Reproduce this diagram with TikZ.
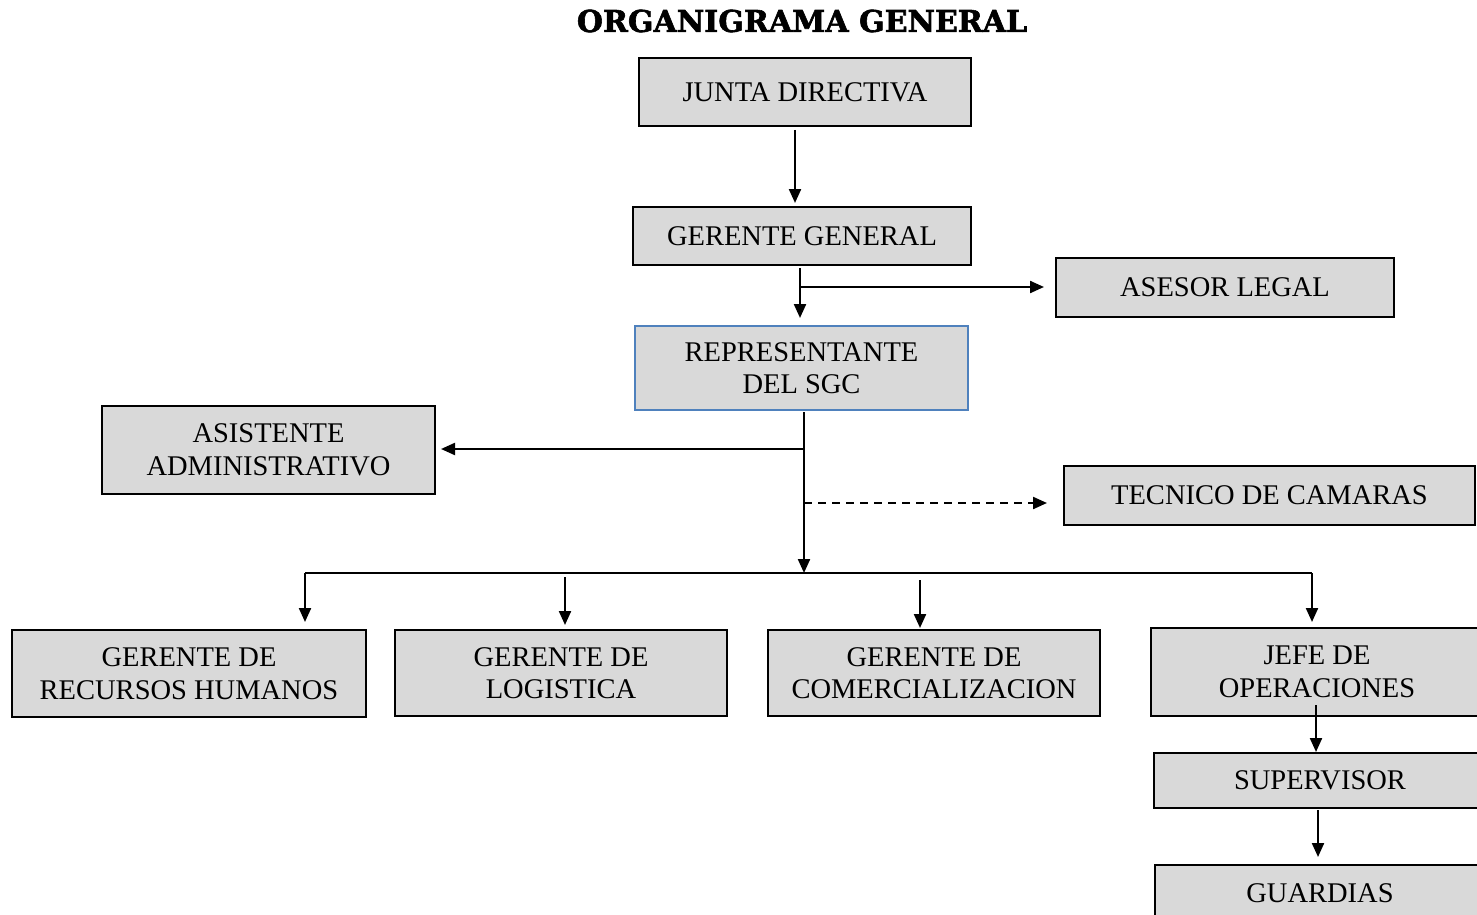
\documentclass[tikz,border=0pt]{standalone}
\usepackage{fontspec}
\setmainfont{Liberation Serif}
\newfontfamily\titlefont[BoldFeatures={FakeBold=2}]{DejaVu Serif}
\usetikzlibrary{arrows.meta,calc}
\definecolor{boxgray}{RGB}{217,217,217}
\definecolor{repblue}{RGB}{79,129,189}
\tikzset{
  box/.style={draw, line width=2.2pt, fill=boxgray, align=center, inner sep=0pt, outer sep=0pt,
    font=\fontsize{28.5}{32.5}\selectfont},
  arr/.style={line width=2.2pt, -{Triangle[length=14pt,width=12pt]}},
  busline/.style={line width=1.5pt}
}
\begin{document}
\begin{tikzpicture}[x=1pt,y=-1pt]
\useasboundingbox (0,0) rectangle (1477,915);
\node[font=\titlefont\bfseries\fontsize{30}{34}\selectfont] (title) at (802,21) {ORGANIGRAMA GENERAL};
\node[box, minimum width=332pt, minimum height=68pt] (junta) at (805,92) {JUNTA DIRECTIVA};
\node[box, minimum width=338pt, minimum height=58pt] (gg) at (802,236) {GERENTE GENERAL};
\node[box, minimum width=338pt, minimum height=59pt] (asesor) at (1225,287.5) {ASESOR LEGAL};
\node[box, draw=repblue, minimum width=333pt, minimum height=84pt] (rep) at (801.5,368) {REPRESENTANTE\\DEL SGC};
\node[box, minimum width=333pt, minimum height=88pt] (asis) at (268.5,450) {ASISTENTE\\ADMINISTRATIVO};
\node[box, minimum width=411pt, minimum height=59pt] (tec) at (1269.5,495.5) {TECNICO DE CAMARAS};
\node[box, minimum width=354pt, minimum height=87pt] (rrhh) at (189,673.5) {GERENTE DE\\RECURSOS HUMANOS};
\node[box, minimum width=332pt, minimum height=86pt] (log) at (561,673) {GERENTE DE\\LOGISTICA};
\node[box, minimum width=332pt, minimum height=86pt] (com) at (934,673) {GERENTE DE\\COMERCIALIZACION};
\node[box, minimum width=332pt, minimum height=88pt] (jefe) at (1317,672) {JEFE DE\\OPERACIONES};
\node[box, minimum width=332pt, minimum height=55pt] (sup) at (1320,780.5) {SUPERVISOR};
\node[box, minimum width=330pt, minimum height=56pt] (guard) at (1320,893) {GUARDIAS};

\coordinate (bus) at (804,573);
\coordinate (busL) at (305,573);
\coordinate (busR) at (1312,573);

\draw[arr] ([shift={(-10,4)}]junta.south) -- ([shift={(-7,-4)}]gg.north);
\draw[arr] ([shift={(-2,3)}]gg.south) -- ([shift={(-1.5,-8)}]rep.north);
\draw[arr] ([shift={(-2,22)}]gg.south) -- ([shift={(-12,-0.5)}]asesor.west);
\draw[arr] ([shift={(2.5,2)}]rep.south) -- (bus);
\draw[arr] ([shift={(2.5,39)}]rep.south) -- ([shift={(6,-1)}]asis.east);
\draw[arr, dashed, dash pattern=on 8pt off 6pt] ([shift={(2.5,93)}]rep.south) -- ([shift={(-17,7.5)}]tec.west);
\draw[busline] (busL) -- (busR);
\draw[arr] (busL) -- ($(busL |- rrhh.north)+(0,-8)$);
\draw[arr] ($(log.north)+(4,-53)$) -- ($(log.north)+(4,-5)$);
\draw[arr] ($(com.north)+(-14,-50)$) -- ($(com.north)+(-14,-2)$);
\draw[arr] (busR) -- ($(busR |- jefe.north)+(0,-6)$);
\draw[arr] ($(jefe.south)+(-1,-11)$) -- ($(sup.north)+(-4,-1)$);
\draw[arr] ($(sup.south)+(-2,2)$) -- ($(guard.north)+(-2,-8)$);
\end{tikzpicture}
\end{document}
